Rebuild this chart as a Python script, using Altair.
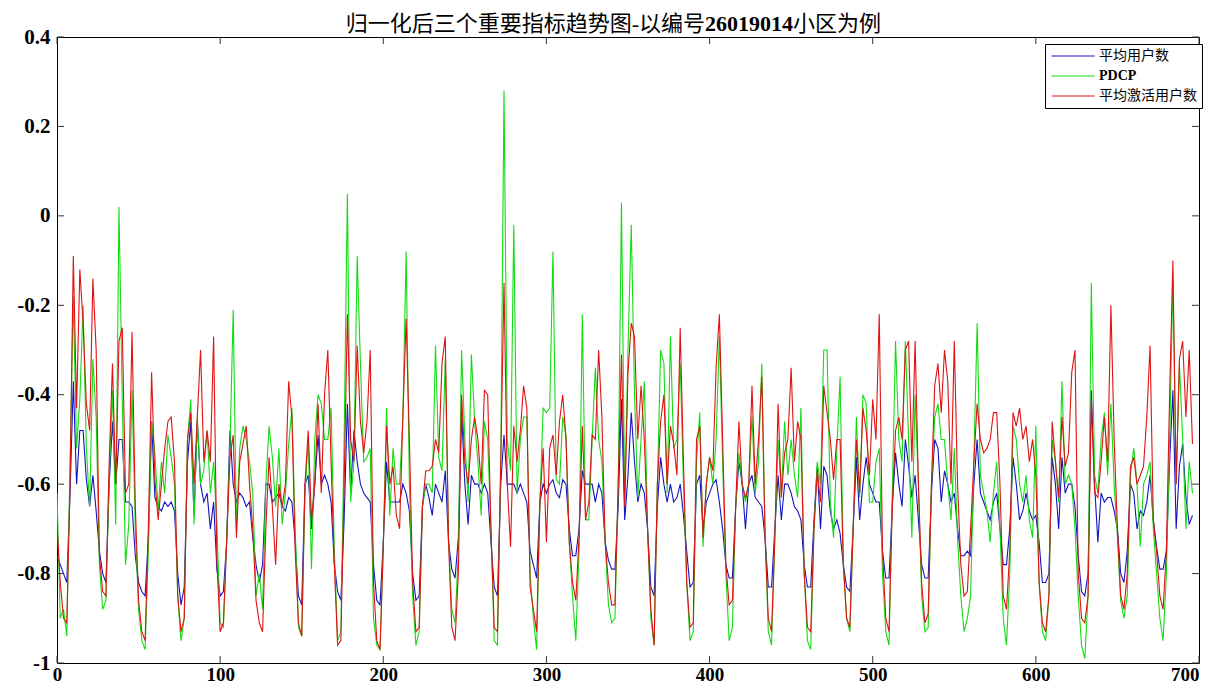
import altair as alt
import pandas as pd

# hour index (every 2nd hour sampled)
hours = list(range(0, 697, 2))

avg_users = [
    -0.76, -0.78, -0.80, -0.82, -0.62, -0.37, -0.60, -0.48, -0.48, -0.59, -0.65, -0.58,
    -0.66, -0.75, -0.80, -0.82, -0.60, -0.46, -0.60, -0.50, -0.50, -0.64, -0.64, -0.65,
    -0.76, -0.82, -0.84, -0.85, -0.72, -0.46, -0.63, -0.65, -0.66, -0.64, -0.65, -0.64,
    -0.66, -0.80, -0.87, -0.83, -0.55, -0.46, -0.67, -0.46, -0.60, -0.64, -0.62, -0.70,
    -0.64, -0.79, -0.85, -0.84, -0.73, -0.48, -0.60, -0.64, -0.62, -0.63, -0.65, -0.64,
    -0.72, -0.78, -0.82, -0.78, -0.60, -0.60, -0.64, -0.63, -0.62, -0.65, -0.66, -0.63,
    -0.64, -0.73, -0.85, -0.87, -0.60, -0.58, -0.70, -0.60, -0.49, -0.60, -0.58, -0.60,
    -0.64, -0.78, -0.84, -0.86, -0.68, -0.42, -0.62, -0.48, -0.55, -0.60, -0.62, -0.63,
    -0.64, -0.78, -0.86, -0.87, -0.73, -0.55, -0.64, -0.64, -0.64, -0.64, -0.60, -0.62,
    -0.66, -0.80, -0.86, -0.85, -0.65, -0.60, -0.63, -0.67, -0.60, -0.62, -0.64, -0.57,
    -0.73, -0.79, -0.81, -0.72, -0.44, -0.60, -0.69, -0.58, -0.60, -0.60, -0.62, -0.60,
    -0.62, -0.73, -0.83, -0.85, -0.60, -0.49, -0.60, -0.60, -0.60, -0.62, -0.60, -0.62,
    -0.64, -0.75, -0.78, -0.81, -0.64, -0.60, -0.62, -0.60, -0.59, -0.62, -0.63, -0.59,
    -0.60, -0.70, -0.76, -0.76, -0.70, -0.57, -0.60, -0.60, -0.60, -0.64, -0.60, -0.62,
    -0.73, -0.77, -0.79, -0.79, -0.65, -0.41, -0.68, -0.58, -0.44, -0.55, -0.64, -0.60,
    -0.62, -0.70, -0.83, -0.85, -0.65, -0.54, -0.60, -0.64, -0.60, -0.64, -0.63, -0.60,
    -0.67, -0.75, -0.83, -0.82, -0.60, -0.58, -0.70, -0.64, -0.62, -0.60, -0.59, -0.64,
    -0.70, -0.78, -0.81, -0.81, -0.65, -0.55, -0.60, -0.70, -0.60, -0.58, -0.63, -0.64,
    -0.65, -0.72, -0.83, -0.83, -0.70, -0.58, -0.68, -0.60, -0.60, -0.62, -0.65, -0.66,
    -0.68, -0.78, -0.83, -0.83, -0.68, -0.56, -0.70, -0.56, -0.58, -0.66, -0.70, -0.68,
    -0.71, -0.78, -0.83, -0.84, -0.70, -0.54, -0.68, -0.60, -0.54, -0.60, -0.62, -0.64,
    -0.64, -0.75, -0.81, -0.81, -0.65, -0.53, -0.60, -0.65, -0.50, -0.56, -0.63, -0.58,
    -0.68, -0.78, -0.81, -0.81, -0.62, -0.50, -0.52, -0.64, -0.57, -0.60, -0.64, -0.62,
    -0.70, -0.76, -0.76, -0.75, -0.76, -0.60, -0.50, -0.62, -0.64, -0.66, -0.68, -0.64,
    -0.62, -0.70, -0.78, -0.78, -0.70, -0.54, -0.60, -0.68, -0.66, -0.62, -0.66, -0.68,
    -0.67, -0.73, -0.82, -0.82, -0.80, -0.54, -0.60, -0.70, -0.54, -0.62, -0.60, -0.60,
    -0.65, -0.76, -0.84, -0.85, -0.80, -0.39, -0.60, -0.73, -0.62, -0.64, -0.63, -0.63,
    -0.66, -0.70, -0.80, -0.82, -0.75, -0.60, -0.62, -0.70, -0.66, -0.67, -0.64, -0.58,
    -0.68, -0.74, -0.79, -0.79, -0.75, -0.55, -0.39, -0.70, -0.56, -0.51, -0.63, -0.69, -0.67,
]

pdcp = [
    -0.62, -0.90, -0.88, -0.94, -0.55, -0.18, -0.52, -0.41, -0.20, -0.52, -0.65, -0.32,
    -0.45, -0.78, -0.88, -0.86, -0.58, -0.39, -0.69, 0.02, -0.41, -0.78, -0.69, -0.39,
    -0.70, -0.88, -0.95, -0.97, -0.75, -0.46, -0.53, -0.66, -0.55, -0.62, -0.49, -0.54,
    -0.60, -0.85, -0.95, -0.90, -0.50, -0.41, -0.69, -0.45, -0.60, -0.57, -0.48, -0.62,
    -0.55, -0.69, -0.91, -0.92, -0.72, -0.52, -0.21, -0.70, -0.52, -0.47, -0.50, -0.55,
    -0.62, -0.85, -0.80, -0.88, -0.60, -0.47, -0.54, -0.65, -0.52, -0.69, -0.62, -0.51,
    -0.43, -0.70, -0.92, -0.94, -0.62, -0.50, -0.79, -0.50, -0.40, -0.42, -0.50, -0.50,
    -0.43, -0.75, -0.95, -0.93, -0.50, 0.05, -0.64, -0.55, -0.09, -0.33, -0.55, -0.54,
    -0.52, -0.90, -0.96, -0.97, -0.74, -0.43, -0.67, -0.52, -0.60, -0.60, -0.45, -0.08,
    -0.60, -0.85, -0.96, -0.93, -0.65, -0.60, -0.60, -0.62, -0.29, -0.54, -0.57, -0.32,
    -0.72, -0.88, -0.91, -0.75, -0.30, -0.50, -0.64, -0.31, -0.46, -0.55, -0.67, -0.46,
    -0.50, -0.70, -0.95, -0.96, -0.55, 0.28, -0.50, -0.57, -0.02, -0.62, -0.50, -0.45,
    -0.45, -0.80, -0.90, -0.97, -0.64, -0.43, -0.44, -0.43, -0.08, -0.59, -0.60, -0.45,
    -0.49, -0.73, -0.85, -0.95, -0.75, -0.22, -0.68, -0.68, -0.50, -0.34, -0.50, -0.55,
    -0.73, -0.87, -0.91, -0.90, -0.60, 0.03, -0.64, -0.30, -0.02, -0.40, -0.63, -0.50,
    -0.37, -0.70, -0.90, -0.96, -0.60, -0.30, -0.33, -0.62, -0.27, -0.52, -0.50, -0.33,
    -0.60, -0.82, -0.95, -0.93, -0.55, -0.44, -0.74, -0.60, -0.54, -0.60, -0.50, -0.27,
    -0.55, -0.80, -0.95, -0.92, -0.65, -0.53, -0.60, -0.64, -0.60, -0.45, -0.62, -0.55,
    -0.33, -0.70, -0.93, -0.96, -0.72, -0.50, -0.62, -0.46, -0.58, -0.50, -0.58, -0.63,
    -0.43, -0.80, -0.95, -0.97, -0.70, -0.55, -0.60, -0.30, -0.30, -0.64, -0.72, -0.52,
    -0.36, -0.78, -0.90, -0.93, -0.70, -0.45, -0.63, -0.40, -0.42, -0.64, -0.64, -0.55,
    -0.52, -0.80, -0.93, -0.96, -0.62, -0.28, -0.50, -0.55, -0.28, -0.50, -0.72, -0.40,
    -0.60, -0.85, -0.93, -0.92, -0.60, -0.45, -0.42, -0.50, -0.50, -0.60, -0.68, -0.52,
    -0.72, -0.85, -0.93, -0.90, -0.85, -0.55, -0.24, -0.58, -0.62, -0.66, -0.73, -0.62,
    -0.55, -0.70, -0.90, -0.96, -0.80, -0.47, -0.50, -0.60, -0.64, -0.58, -0.68, -0.72,
    -0.47, -0.82, -0.93, -0.95, -0.85, -0.50, -0.55, -0.64, -0.37, -0.60, -0.58, -0.60,
    -0.70, -0.85, -0.96, -0.99, -0.85, -0.15, -0.58, -0.62, -0.50, -0.44, -0.58, -0.42,
    -0.60, -0.72, -0.86, -0.90, -0.85, -0.58, -0.52, -0.60, -0.74, -0.60, -0.58, -0.55,
    -0.70, -0.80, -0.90, -0.95, -0.80, -0.50, -0.14, -0.60, -0.33, -0.50, -0.70, -0.55, -0.62,
]

avg_active = [
    -0.69, -0.82, -0.90, -0.91, -0.60, -0.09, -0.43, -0.12, -0.24, -0.42, -0.48, -0.14,
    -0.30, -0.76, -0.84, -0.85, -0.55, -0.33, -0.60, -0.28, -0.25, -0.62, -0.60, -0.26,
    -0.65, -0.86, -0.93, -0.95, -0.70, -0.35, -0.59, -0.68, -0.60, -0.52, -0.46, -0.45,
    -0.55, -0.85, -0.93, -0.90, -0.50, -0.44, -0.60, -0.45, -0.30, -0.55, -0.48, -0.55,
    -0.27, -0.77, -0.93, -0.91, -0.73, -0.54, -0.49, -0.72, -0.55, -0.51, -0.47, -0.60,
    -0.70, -0.86, -0.91, -0.93, -0.70, -0.54, -0.65, -0.78, -0.60, -0.65, -0.60, -0.37,
    -0.45, -0.75, -0.91, -0.94, -0.60, -0.48, -0.68, -0.60, -0.42, -0.62, -0.40, -0.30,
    -0.55, -0.78, -0.96, -0.95, -0.60, -0.22, -0.50, -0.55, -0.29, -0.46, -0.53, -0.46,
    -0.30, -0.82, -0.95, -0.97, -0.74, -0.47, -0.60, -0.56, -0.67, -0.70, -0.45, -0.23,
    -0.50, -0.82, -0.93, -0.92, -0.65, -0.57, -0.57, -0.56, -0.50, -0.53, -0.33, -0.27,
    -0.73, -0.92, -0.95, -0.80, -0.40, -0.55, -0.60, -0.50, -0.45, -0.50, -0.60, -0.39,
    -0.40, -0.70, -0.92, -0.93, -0.55, -0.15, -0.60, -0.74, -0.47, -0.55, -0.48, -0.38,
    -0.43, -0.83, -0.88, -0.93, -0.64, -0.52, -0.73, -0.52, -0.49, -0.58, -0.46, -0.40,
    -0.50, -0.73, -0.82, -0.86, -0.72, -0.47, -0.68, -0.64, -0.49, -0.50, -0.30, -0.45,
    -0.73, -0.82, -0.87, -0.87, -0.60, -0.31, -0.65, -0.35, -0.24, -0.27, -0.50, -0.38,
    -0.50, -0.70, -0.88, -0.96, -0.60, -0.46, -0.40, -0.60, -0.47, -0.51, -0.58, -0.25,
    -0.55, -0.82, -0.92, -0.91, -0.50, -0.47, -0.72, -0.60, -0.54, -0.57, -0.34, -0.22,
    -0.50, -0.78, -0.87, -0.86, -0.65, -0.46, -0.60, -0.63, -0.60, -0.38, -0.60, -0.50,
    -0.36, -0.72, -0.90, -0.93, -0.72, -0.42, -0.63, -0.53, -0.50, -0.34, -0.55, -0.46,
    -0.50, -0.80, -0.92, -0.93, -0.70, -0.57, -0.64, -0.38, -0.44, -0.50, -0.59, -0.50,
    -0.50, -0.78, -0.90, -0.92, -0.70, -0.50, -0.62, -0.43, -0.48, -0.58, -0.41, -0.50,
    -0.22, -0.75, -0.90, -0.93, -0.65, -0.48, -0.45, -0.50, -0.30, -0.28, -0.55, -0.28,
    -0.60, -0.82, -0.91, -0.89, -0.60, -0.38, -0.33, -0.44, -0.30, -0.37, -0.60, -0.28,
    -0.60, -0.78, -0.85, -0.84, -0.70, -0.55, -0.42, -0.50, -0.53, -0.52, -0.50, -0.44,
    -0.44, -0.60, -0.85, -0.88, -0.75, -0.44, -0.47, -0.43, -0.50, -0.47, -0.55, -0.50,
    -0.58, -0.82, -0.91, -0.93, -0.85, -0.46, -0.55, -0.63, -0.45, -0.56, -0.53, -0.35,
    -0.30, -0.80, -0.90, -0.91, -0.85, -0.41, -0.62, -0.63, -0.55, -0.45, -0.55, -0.20,
    -0.50, -0.70, -0.85, -0.88, -0.80, -0.56, -0.54, -0.60, -0.58, -0.56, -0.45, -0.29,
    -0.68, -0.75, -0.85, -0.88, -0.75, -0.40, -0.10, -0.60, -0.32, -0.28, -0.45, -0.30, -0.51,
]

series_names = ["平均用户数", "PDCP", "平均激活用户数"]
series_colors = ["#1414c0", "#14dc14", "#e01212"]
x_ticks = [0, 100, 200, 300, 400, 500, 600, 700]
y_ticks = [-1.0, -0.8, -0.6, -0.4, -0.2, 0.0, 0.2, 0.4]
title_parts = ["归一化后三个重要指标趋势图-以编号", "26019014", "小区为例"]

rows = []
for name, vals in zip(series_names, [avg_users, pdcp, avg_active]):
    for h, v in zip(hours, vals):
        rows.append({"hour": h, "value": v, "series": name})
df = pd.DataFrame(rows)
xdf = pd.DataFrame({"t": x_ticks})
ydf = pd.DataFrame({"v": y_ticks})

W, H = 1142, 626
TICK = 7
serif = "Liberation Serif"
mixed = "Liberation Serif, Noto Sans CJK SC"
TFS = 22  # title font size

xs = alt.Scale(domain=[0, 700], nice=False, zero=False)
ys = alt.Scale(domain=[-1, 0.4], nice=False, zero=False)
xaxis = alt.Axis(values=x_ticks, title=None, labelFont=serif, labelFontWeight="bold",
                 labelFontSize=19, labelColor="black", labelPadding=2, domain=False,
                 ticks=False, grid=False, labelFlush=False, labelOverlap=False,
                 labelBaseline="top",
                 labelAlign={"condition": {"test": "datum.value == 700", "value": "right"},
                             "value": "center"})
yaxis = alt.Axis(values=y_ticks, title=None, labelFont=serif, labelFontWeight="bold",
                 labelFontSize=21, labelColor="black", labelPadding=7, domain=False,
                 ticks=False, grid=False, labelFlush=False, labelOverlap=False,
                 labelExpr="toString(round(datum.value*10)/10)")

lines = alt.Chart(df).mark_line(strokeWidth=1.1, clip=True).encode(
    x=alt.X("hour:Q", scale=xs, axis=xaxis),
    y=alt.Y("value:Q", scale=ys, axis=yaxis),
    color=alt.Color("series:N", sort=series_names,
                    scale=alt.Scale(domain=series_names, range=series_colors),
                    legend=alt.Legend(title=None, orient="none", legendX=988, legendY=7,
                                      symbolType="M-1,0H7", symbolSize=116,
                                      symbolStrokeWidth=1.2, labelFont=mixed,
                                      labelFontSize=14, labelColor="black",
                                      labelFontWeight=alt.ExprRef(
                                          "datum.value == 'PDCP' ? 'bold' : 'normal'"),
                                      strokeColor="black", fillColor="white",
                                      padding=5, rowPadding=6, labelOffset=35,
                                      cornerRadius=0, labelLimit=300)),
)

tick_color = "#333333"
left_ticks = alt.Chart(ydf).mark_rule(color=tick_color, strokeWidth=1).encode(
    y=alt.Y("v:Q", scale=ys, axis=yaxis), x=alt.value(0), x2=alt.value(TICK))
right_ticks = alt.Chart(ydf).mark_rule(color=tick_color, strokeWidth=1).encode(
    y=alt.Y("v:Q", scale=ys, axis=yaxis), x=alt.value(W - TICK), x2=alt.value(W))
bottom_ticks = alt.Chart(xdf).mark_rule(color=tick_color, strokeWidth=1).encode(
    x=alt.X("t:Q", scale=xs, axis=xaxis), y=alt.value(H - TICK), y2=alt.value(H))
top_ticks = alt.Chart(xdf).mark_rule(color=tick_color, strokeWidth=1).encode(
    x=alt.X("t:Q", scale=xs, axis=xaxis), y=alt.value(0), y2=alt.value(TICK))

# title, split so the cell number can be bold (as in the original)
split_x = 648
digits_w = len(title_parts[1]) * TFS * 0.5
t1 = alt.Chart(pd.DataFrame({"s": [title_parts[0]]})).mark_text(
    font=mixed, fontSize=TFS, color="black", align="right", baseline="alphabetic").encode(
    text="s:N", x=alt.value(split_x), y=alt.value(-6))
t2 = alt.Chart(pd.DataFrame({"s": [title_parts[1]]})).mark_text(
    font=serif, fontSize=TFS, fontWeight="bold", color="black", align="left",
    baseline="alphabetic").encode(text="s:N", x=alt.value(split_x), y=alt.value(-6))
t3 = alt.Chart(pd.DataFrame({"s": [title_parts[2]]})).mark_text(
    font=mixed, fontSize=TFS, color="black", align="left", baseline="alphabetic").encode(
    text="s:N", x=alt.value(split_x + digits_w), y=alt.value(-6))

chart = alt.layer(lines, left_ticks, right_ticks, bottom_ticks, top_ticks, t1, t2, t3).properties(
    width=W, height=H,
    autosize=alt.AutoSizeParams(type="none"),
    padding={"left": 49, "top": 29, "right": 6, "bottom": 22},
).configure(background="white").configure_view(stroke="black", strokeWidth=1)

chart.save("out.html", embed_options={"renderer": "svg", "actions": False})
